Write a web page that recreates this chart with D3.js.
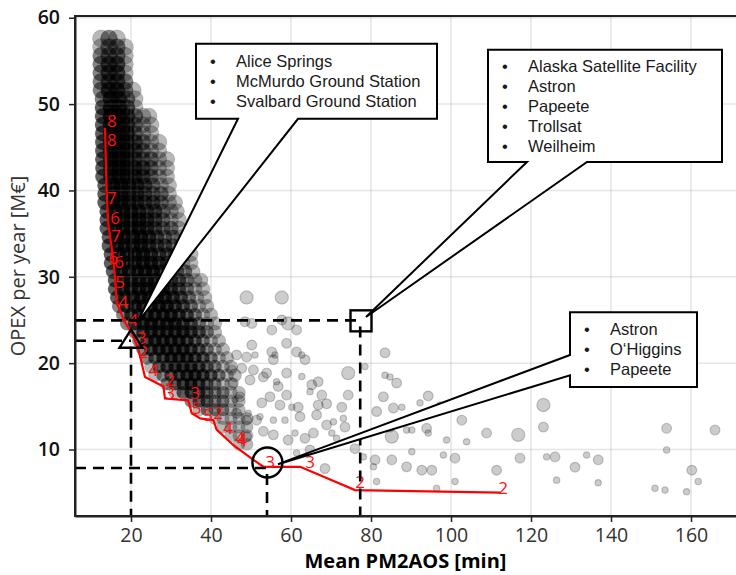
<!DOCTYPE html>
<html>
<head>
<meta charset="utf-8">
<script src="https://cdn.jsdelivr.net/npm/d3@7"></script>
<style>
  body { margin: 0; background: #fff; }
  svg { display: block; }
</style>
</head>
<body>
<svg id="chart"></svg>
<script>
// pareto front (red line), mean PM2AOS [min] vs OPEX [M EUR]
var frontX = [13.5, 13.9, 14.3, 15.5, 16.0, 16.4, 18.5, 20.2, 21.8, 23.5, 28.1, 28.5, 34.3, 35.2, 37.3, 40.6, 41.4, 45.6, 50.6, 53.1, 62.3, 76.0, 112.3];
var frontY = [47.25, 40.1, 36.2, 32.3, 30.0, 27.0, 24.7, 23.5, 21.7, 18.4, 17.3, 15.9, 15.7, 14.2, 13.6, 13.4, 12.3, 10.5, 8.8, 8.0, 8.0, 5.3, 5.0];

// number of stations written along the front
var labelText = ["8","8","7","6","7","6","6","5","4","4","3","2","4","2","3","3","5","5","2","4","4","4","3","3","2","2"];
var labelX = [15.2, 15.2, 15.2, 16.0, 16.25, 15.6, 17.0, 17.25, 18.1, 20.6, 22.7, 23.1, 25.6, 29.75, 29.75, 36.0, 36.4, 39.3, 41.8, 44.3, 47.25, 47.75, 54.75, 64.75, 77.25, 113.0];
var labelY = [48.0, 45.9, 39.1, 36.8, 34.7, 32.2, 31.7, 29.4, 27.1, 25.0, 22.9, 21.3, 19.2, 18.1, 16.5, 16.5, 14.8, 14.0, 14.2, 12.5, 11.3, 11.1, 8.6, 8.6, 6.3, 5.6];

// dense part of the solution cloud: [y, [[x, count], ...]]
var cloudRows = [
  [57.6, [[12.5,1],[14.5,2],[16.5,1]]],
  [56.6, [[12.5,1],[14.5,2],[16.5,2],[18.5,1]]],
  [55.6, [[12.5,2],[14.5,2],[16.5,2],[18.5,1]]],
  [54.6, [[12.5,2],[14.5,3],[16.5,3],[18.5,1]]],
  [53.6, [[12.5,2],[14.5,3],[16.5,3],[18.5,1]]],
  [52.6, [[12.5,2],[14.5,3],[16.5,3],[18.5,2]]],
  [51.6, [[12.5,2],[14.5,4],[16.5,4],[18.5,2],[20.5,1]]],
  [50.6, [[13,2],[15,4],[17,4],[19,2],[21,1]]],
  [49.6, [[13,3],[15,5],[17,5],[19,3],[21,1]]],
  [48.6, [[13,3],[15,5],[17,5],[19,4],[21,2],[23,1],[24.5,1]]],
  [47.6, [[13,3],[15,5],[17,5],[19,4],[21,2],[23,1],[25,1]]],
  [46.6, [[13,3],[15,5],[17,5],[19,5],[21,2],[23,1],[25,1]]],
  [45.6, [[13,3],[15,5],[17,5],[19,5],[21,3],[23,2],[25,1],[27,1]]],
  [44.6, [[13,3],[15,5],[17,5],[19,5],[21,3],[23,2],[25,1],[27,1]]],
  [43.6, [[13,3],[15,5],[17,5],[19,5],[21,3],[23,2],[25,2],[27,1],[29,1]]],
  [42.6, [[13,3],[15,5],[17,5],[19,5],[21,4],[23,3],[25,2],[27,1],[29,1]]],
  [41.6, [[13,3],[15,5],[17,5],[19,5],[21,4],[23,3],[25,2],[27,1],[29,1]]],
  [40.6, [[13.5,3],[15.5,5],[17.5,5],[19.5,5],[21.5,4],[23.5,3],[25.5,2],[27.5,1],[29.5,1]]],
  [39.6, [[13.5,3],[15.5,5],[17.5,5],[19.5,5],[21.5,4],[23.5,3],[25.5,2],[27.5,2],[29.5,1]]],
  [38.6, [[13.5,3],[15.5,5],[17.5,5],[19.5,5],[21.5,4],[23.5,3],[25.5,3],[27.5,2],[29.5,1],[31,1]]],
  [37.6, [[14,3],[16,5],[18,5],[20,5],[22,4],[24,3],[26,3],[28,2],[30,1],[31.5,1]]],
  [36.6, [[14,3],[16,5],[18,5],[20,5],[22,5],[24,4],[26,3],[28,2],[30,1],[32,1]]],
  [35.6, [[14,3],[16,5],[18,5],[20,5],[22,5],[24,4],[26,3],[28,2],[30,2],[32,1]]],
  [34.6, [[14.5,3],[16.5,5],[18.5,5],[20.5,5],[22.5,5],[24.5,4],[26.5,3],[28.5,2],[30.5,2],[32.5,1],[34,1]]],
  [33.6, [[14.5,3],[16.5,5],[18.5,5],[20.5,5],[22.5,5],[24.5,4],[26.5,3],[28.5,3],[30.5,2],[32.5,1],[34.5,1]]],
  [32.6, [[15,3],[17,5],[19,5],[21,5],[23,5],[25,4],[27,3],[29,3],[31,2],[33,1],[35,1]]],
  [31.6, [[15,3],[17,5],[19,5],[21,5],[23,5],[25,5],[27,4],[29,3],[31,2],[33,1],[35,1]]],
  [30.6, [[15.5,3],[17.5,5],[19.5,5],[21.5,5],[23.5,5],[25.5,5],[27.5,4],[29.5,3],[31.5,2],[33.5,2],[35.5,1]]],
  [29.6, [[16,3],[18,5],[20,5],[22,5],[24,5],[26,5],[28,4],[30,3],[32,3],[34,2],[36,1],[37.5,1]]],
  [28.6, [[16,3],[18,5],[20,5],[22,5],[24,5],[26,5],[28,5],[30,4],[32,3],[34,2],[36,1],[38,1]]],
  [27.6, [[16.5,3],[18.5,4],[20.5,5],[22.5,5],[24.5,5],[26.5,5],[28.5,5],[30.5,4],[32.5,3],[34.5,2],[36.5,1],[38.5,1]]],
  [26.6, [[17,2],[19,4],[21,5],[23,5],[25,5],[27,5],[29,5],[31,4],[33,3],[35,2],[37,1],[39,1]]],
  [25.6, [[18,2],[20,4],[22,5],[24,5],[26,5],[28,5],[30,5],[32,4],[34,3],[36,2],[38,1],[40,1]]],
  [24.6, [[19,2],[21,4],[23,5],[25,5],[27,5],[29,5],[31,5],[33,4],[35,3],[37,2],[39,1],[41,1]]],
  [23.6, [[21,2],[23,4],[25,5],[27,5],[29,5],[31,5],[33,5],[35,4],[37,3],[39,2],[41,1]]],
  [22.6, [[22,2],[24,4],[26,5],[28,5],[30,5],[32,5],[34,4],[36,3],[38,2],[40,1],[42,1]]],
  [21.6, [[23,2],[25,4],[27,5],[29,5],[31,5],[33,5],[35,4],[37,3],[39,2],[41,1],[43,1]]],
  [20.6, [[24,2],[26,3],[28,4],[30,5],[32,5],[34,5],[36,4],[38,3],[40,2],[42,1],[44,1]]],
  [19.6, [[25,1],[27,3],[29,4],[31,5],[33,5],[35,5],[37,4],[39,3],[41,2],[43,1],[45,1]]],
  [18.6, [[26,1],[28,2],[30,3],[32,4],[34,5],[36,5],[38,4],[40,3],[42,2],[44,1],[46,1]]],
  [17.6, [[29,2],[31,3],[33,4],[35,5],[37,4],[39,3],[41,2],[43,1],[45,1]]],
  [16.6, [[31,1],[33,3],[35,4],[37,4],[39,3],[41,2],[43,2],[45,1],[47,1]]],
  [15.6, [[35,2],[37,3],[39,3],[41,2],[43,2],[45,1],[47,1]]],
  [14.6, [[37,1],[39,2],[41,2],[43,2],[45,1],[47,1]]],
  [13.6, [[41,1],[43,1],[45,1],[47,1],[49,1]]],
  [12.6, [[43,1],[45,1],[47,1],[49,1]]],
  [11.6, [[45,1],[47,1],[49,1]]],
  [10.6, [[47,1],[49,1]]]
];

// scattered solutions: [x, y, size class]
var sparse = [
  [48.9,27.6,3],[57.7,27.6,3],[48.5,24.8,2],[50.2,24.6,2],[55.2,23.85,2],[57.7,25.0,2],[59.3,24.6,3],[61.4,23.85,2],
  [50.2,22.1,2],[55.2,21.3,2],[58.9,22.3,2],[61.4,21.3,2],[62.7,20.95,1],[63.5,20.4,2],[46.4,20.95,2],[48.9,20.7,2],
  [51.0,20.95,1],[55.6,20.4,2],[56.0,20.95,1],[45.2,19.2,2],[47.7,19.4,2],[50.6,19.2,2],[53.9,18.85,2],[58.9,18.85,2],
  [62.7,18.45,1],[74.3,18.85,3],[78.5,19.6,1],[83.5,21.2,2],[83.5,18.6,1],[84.75,18.4,1],[86.4,17.7,2],[45.6,17.7,2],
  [49.75,18.05,2],[53.1,18.4,2],[56.4,17.85,1],[56.8,17.3,2],[58.9,16.3,2],[65.2,17.5,2],[64.75,16.7,1],[66.8,17.85,2],
  [67.7,16.3,2],[74.3,16.3,2],[47.25,16.1,2],[54.75,16.1,2],[46.0,15.75,1],[83.1,16.1,2],[94.3,16.2,2],
  [52.7,15.4,2],[57.25,15.15,2],[60.2,14.9,1],[61.8,14.9,2],[66.8,15.15,2],[68.9,15.3,2],[72.7,14.9,2],[85.6,14.8,2],
  [87.7,14.9,1],[92.25,15.4,1],[97.25,15.15,1],[81.4,14.4,2],[123.1,15.15,3],[46.4,14.2,2],[48.9,13.4,2],[49.3,14.2,1],
  [51.4,13.4,2],[52.25,13.8,1],[55.6,13.4,1],[58.5,13.4,1],[62.25,13.8,2],[66.4,14.0,2],[68.9,12.85,2],[70.6,13.2,1],
  [73.1,13.6,1],[73.5,12.6,2],[70.2,11.9,1],[71.4,11.3,1],[65.6,11.9,2],[63.5,11.3,2],[61.0,11.9,1],[53.1,12.1,2],
  [55.6,11.7,2],[59.3,11.1,2],[48.9,11.5,2],[84.75,12.6,2],[85.2,11.5,3],[88.9,12.25,1],[90.2,12.25,1],[93.9,12.45,2],
  [94.3,11.9,1],[98.9,11.1,1],[102.7,13.4,2],[103.9,10.9,1],[108.9,11.9,2],[116.8,11.7,3],[123.1,12.6,2],[153.9,12.45,2],
  [166.0,12.25,2],[61.4,9.6,1],[64.75,9.95,2],[76.0,10.1,2],[90.2,9.75,1],[98.1,9.35,1],[101.0,9.0,2],[117.25,9.0,2],
  [123.9,9.15,1],[126.0,9.15,2],[133.9,9.35,1],[136.8,8.8,2],[131.0,7.95,2],[153.9,9.95,1],[81.0,8.8,2],[85.2,8.8,2],
  [78.1,9.15,1],[80.6,8.0,1],[88.9,8.0,2],[92.7,7.6,2],[95.2,7.6,2],[111.4,7.6,2],[160.2,7.6,2],[68.5,7.8,2],
  [81.4,6.3,1],[101.0,6.3,1],[126.4,6.45,1],[136.8,6.15,1],[161.8,6.3,1],[96.4,5.5,1],[151.0,5.5,1],[153.5,5.3,1],
  [158.9,5.1,1]
];

// highlighted solutions: triangle, square, circle
var markerShape = ["triangle", "square", "circle"];
var markerX = [20.0, 77.5, 54.1];
var markerY = [22.6, 24.9, 8.5];
var guideX = [20.0, 77.3, 54.0];
var guideY = [22.6, 24.95, 7.85];

// callout boxes
var calloutItems = [
  ["Alice Springs", "McMurdo Ground Station", "Svalbard Ground Station"],
  ["Alaska Satellite Facility", "Astron", "Papeete", "Trollsat", "Weilheim"],
  ["Astron", "O\u2018Higgins", "Papeete"]
];
var calloutBox = [[36.25, 96.5, 57.0, 48.3], [109.25, 167.75, 56.3, 43.3], [129.75, 161.5, 25.9, 17.25]]; // x0, x1, yTop, yBottom
var calloutSide = ["bottom", "bottom", "left"];
var calloutRoot = [[46.75, 61.75], [119.0, 134.0], [20.95, 18.6]];
var calloutTip = [[21.5, 24.65], [78.75, 25.35], [56.75, 8.3]];

var xTicks = [20, 40, 60, 80, 100, 120, 140, 160];
var yTicks = [10, 20, 30, 40, 50, 60];

var W = 736, H = 575;
var margins = {left: 75, top: 16, right: 0, bottom: 59};

var svg = d3.select("#chart").attr("width", W).attr("height", H);

var x = d3.scaleLinear().domain([6, 171.25]).range([margins.left, W - margins.right]);
var y = d3.scaleLinear().domain([2.3, 60.2]).range([H - margins.bottom, margins.top]);
var rCloud = d3.scaleLinear().domain([10, 58]).range([6, 8.5]);
var rSparse = d3.scaleLinear().domain([1, 3]).range([3.2, 6.6]);

svg.append("rect").attr("width", W).attr("height", H).attr("fill", "#fff");

svg.append("clipPath").attr("id", "plotClip")
   .append("rect")
   .attr("x", x.range()[0]).attr("y", y.range()[1])
   .attr("width", x.range()[1] - x.range()[0])
   .attr("height", y.range()[0] - y.range()[1]);

var plot = svg.append("g").attr("clip-path", "url(#plotClip)");

//cloud
var cloud = [];
cloudRows.forEach(function(row) {
  row[1].forEach(function(p) { cloud.push({x: p[0], y: row[0], n: p[1]}); });
});

plot.append("g").selectAll("circle")
    .data(cloud)
    .enter()
    .append("circle")
    .attr("cx", function(d) {return x(d.x);})
    .attr("cy", function(d) {return y(d.y);})
    .attr("r", function(d) {return rCloud(d.y);})
    .attr("fill", "#000")
    .attr("fill-opacity", function(d) {return 1 - Math.pow(0.72, d.n);})
    .attr("stroke", "#000")
    .attr("stroke-opacity", 0.15);

plot.append("g").selectAll("circle")
    .data(sparse)
    .enter()
    .append("circle")
    .attr("cx", function(d) {return x(d[0]);})
    .attr("cy", function(d) {return y(d[1]);})
    .attr("r", function(d) {return rSparse(d[2]);})
    .attr("fill", "#000")
    .attr("fill-opacity", 0.2)
    .attr("stroke", "#000")
    .attr("stroke-opacity", 0.2)
    .attr("stroke-width", 1.2);

//grid drawn over the points
var grid = plot.append("g").attr("stroke", "#888").attr("stroke-opacity", 0.22).attr("stroke-width", 1.5);
grid.selectAll("line.gx").data(xTicks).enter().append("line")
    .attr("x1", function(d) {return x(d);}).attr("x2", function(d) {return x(d);})
    .attr("y1", y.range()[0]).attr("y2", y.range()[1]);
grid.selectAll("line.gy").data(yTicks).enter().append("line")
    .attr("y1", function(d) {return y(d);}).attr("y2", function(d) {return y(d);})
    .attr("x1", x.range()[0]).attr("x2", x.range()[1]);

//front
var front = frontX.map(function(v, i) {return [v, frontY[i]];});
plot.append("path")
    .datum(front)
    .attr("d", d3.line().x(function(d) {return x(d[0]);}).y(function(d) {return y(d[1]);}))
    .attr("fill", "none")
    .attr("stroke", "#ff0000")
    .attr("stroke-width", 2.2);

plot.append("g").selectAll("text")
    .data(labelText)
    .enter()
    .append("text")
    .attr("x", function(d, i) {return x(labelX[i]);})
    .attr("y", function(d, i) {return y(labelY[i]);})
    .attr("dy", "0.36em")
    .attr("text-anchor", "middle")
    .style("font-family", "'Open Sans', sans-serif")
    .style("font-size", "17px")
    .attr("fill", "#ff1010")
    .text(function(d) {return d;});

//dashed guides
var guides = plot.append("g").attr("stroke", "#000").attr("stroke-width", 2.6).attr("stroke-dasharray", "11,7").attr("fill", "none");
guideX.forEach(function(gx, i) {
  guides.append("line")
        .attr("x1", x.range()[0]).attr("x2", x(gx))
        .attr("y1", y(guideY[i])).attr("y2", y(guideY[i]));
  guides.append("line")
        .attr("x1", x(gx)).attr("x2", x(gx))
        .attr("y1", y(guideY[i]) + 6).attr("y2", y.range()[0]);
});

//markers
var marks = plot.append("g").attr("stroke", "#000").attr("stroke-width", 2.4).attr("fill", "none");
markerShape.forEach(function(s, i) {
  var cx = x(markerX[i]), cy = y(markerY[i]);
  if (s == "triangle") {
    marks.append("path").attr("d", "M" + cx + "," + (cy - 11) + "L" + (cx + 11.5) + "," + (cy + 7) + "L" + (cx - 11.5) + "," + (cy + 7) + "Z");
  } else if (s == "square") {
    marks.append("rect").attr("x", cx - 10.5).attr("y", cy - 10.5).attr("width", 21).attr("height", 21);
  } else {
    marks.append("circle").attr("cx", cx).attr("cy", cy).attr("r", 15);
  }
});

//callouts
var callouts = svg.append("g");
calloutItems.forEach(function(items, i) {
  var b = calloutBox[i];
  var x0 = x(b[0]), x1 = x(b[1]), y0 = y(b[2]), y1 = y(b[3]);
  var tip = [x(calloutTip[i][0]), y(calloutTip[i][1])];
  var pts;
  if (calloutSide[i] == "bottom") {
    var ra = x(calloutRoot[i][0]), rb = x(calloutRoot[i][1]);
    pts = [[x0, y0], [x1, y0], [x1, y1], [rb, y1], tip, [ra, y1], [x0, y1]];
  } else {
    var ta = y(calloutRoot[i][0]), tb = y(calloutRoot[i][1]);
    pts = [[x0, y0], [x1, y0], [x1, y1], [x0, y1], [x0, tb], tip, [x0, ta]];
  }
  callouts.append("path")
          .attr("d", "M" + pts.join("L") + "Z")
          .attr("fill", "#fff")
          .attr("stroke", "#000")
          .attr("stroke-width", 2)
          .attr("stroke-linejoin", "miter");

  var first = y0 + ((y1 - y0) - (items.length - 1) * 20) / 2;
  var g = callouts.append("g")
                  .style("font-family", "'Liberation Sans', Arial, sans-serif")
                  .style("font-size", "16.5px")
                  .attr("fill", "#1a1a1a");
  g.selectAll("text.bullet").data(items).enter().append("text")
   .attr("x", x0 + 17).attr("y", function(d, j) {return first + j * 20;})
   .attr("dy", "0.35em").attr("text-anchor", "middle")
   .text("\u2022");
  g.selectAll("text.item").data(items).enter().append("text")
   .attr("x", x0 + 40).attr("y", function(d, j) {return first + j * 20;})
   .attr("dy", "0.35em")
   .text(function(d) {return d;});
});

//frame
svg.append("rect")
   .attr("x", x.range()[0]).attr("y", y.range()[1])
   .attr("width", x.range()[1] - x.range()[0] + 2)
   .attr("height", y.range()[0] - y.range()[1])
   .attr("fill", "none")
   .attr("stroke", "#222")
   .attr("stroke-width", 2);

//axes
var xAxis = svg.append("g")
   .attr("transform", "translate(0," + y.range()[0] + ")")
   .call(d3.axisBottom(x).tickValues(xTicks).tickSize(6).tickSizeOuter(0).tickPadding(6));
xAxis.selectAll("text")
     .style("font-family", "'Open Sans', sans-serif")
     .style("font-size", "19.5px")
     .attr("fill", "#333");

var yAxis = svg.append("g")
   .attr("transform", "translate(" + x.range()[0] + ",0)")
   .call(d3.axisLeft(y).tickValues(yTicks).tickSize(6).tickSizeOuter(0).tickPadding(9));
yAxis.selectAll("text")
     .style("font-family", "'Open Sans', sans-serif")
     .style("font-size", "19.5px")
     .style("font-weight", "600")
     .attr("fill", "#111");

[xAxis, yAxis].forEach(function(a) {
  a.select(".domain").attr("stroke", "#222").attr("stroke-width", 2);
  a.selectAll(".tick line").attr("stroke", "#222").attr("stroke-width", 1.5);
});

svg.append("text")
   .attr("x", (x.range()[0] + x.range()[1]) / 2)
   .attr("y", 568)
   .attr("text-anchor", "middle")
   .style("font-family", "'Open Sans', sans-serif")
   .style("font-size", "20px")
   .style("font-weight", "bold")
   .attr("fill", "#000")
   .text("Mean PM2AOS [min]");

svg.append("text")
   .attr("transform", "translate(25," + ((y.range()[0] + y.range()[1]) / 2) + ") rotate(-90)")
   .attr("text-anchor", "middle")
   .style("font-family", "'Open Sans', sans-serif")
   .style("font-size", "20px")
   .attr("fill", "#333")
   .text("OPEX per year [M\u20ac]");
</script>
</body>
</html>
